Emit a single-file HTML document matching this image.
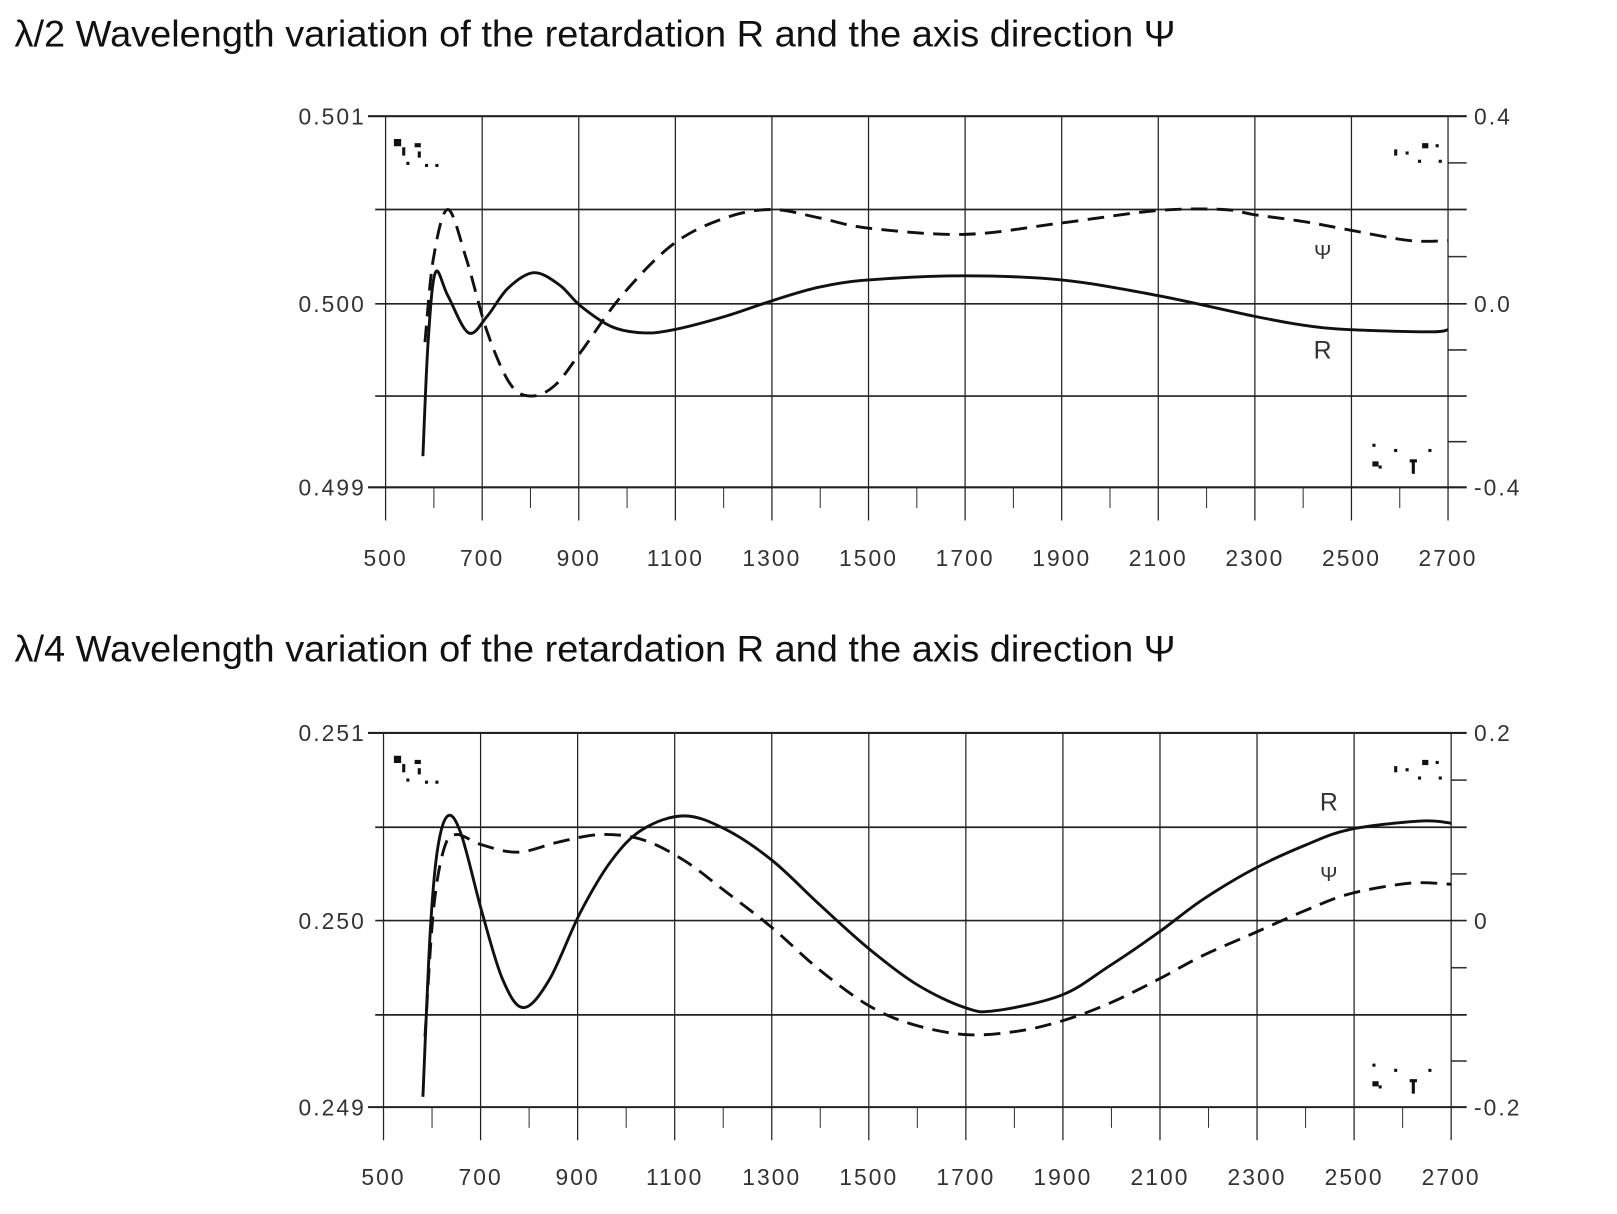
<!DOCTYPE html>
<html><head><meta charset="utf-8"><style>
html,body{margin:0;padding:0;background:#fff}
svg{display:block}
.t{font-family:"Liberation Sans",sans-serif;font-size:36px;fill:#111}
.tk{font-family:"Liberation Sans",sans-serif;font-size:22px;fill:#333;letter-spacing:2px}
</style></head><body>
<svg width="1617" height="1214" viewBox="0 0 1560 1171" xmlns="http://www.w3.org/2000/svg">
<rect width="1560" height="1171" fill="#fff"/>
<text class="t" x="14" y="45" textLength="1120" lengthAdjust="spacingAndGlyphs">λ/2 Wavelength variation of the retardation R and the axis direction Ψ</text>
<text class="t" x="14" y="638" textLength="1120" lengthAdjust="spacingAndGlyphs">λ/4 Wavelength variation of the retardation R and the axis direction Ψ</text>
<g id="g1"></g><g id="g2"></g>
</svg>
<script>
const NS="http://www.w3.org/2000/svg";
function el(p,n,a,txt){const e=document.createElementNS(NS,n);for(const k in a)e.setAttribute(k,a[k]);if(txt!==undefined)e.textContent=txt;p.appendChild(e);return e;}
function smooth(pts){let d="M"+pts[0].join(",");for(let i=0;i<pts.length-1;i++){const p0=pts[i-1]||pts[i],p1=pts[i],p2=pts[i+1],p3=pts[i+2]||p2;
const c1=[p1[0]+(p2[0]-p0[0])/6,p1[1]+(p2[1]-p0[1])/6],c2=[p2[0]-(p3[0]-p1[0])/6,p2[1]-(p3[1]-p1[1])/6];
d+=" C"+c1.join(",")+" "+c2.join(",")+" "+p2.join(",");}return d;}
function chart(g,L,R,ys,lt,rt,xl,solid,dash,labY,rLabs){
 const G=document.getElementById(g);
 const step=(R-L)/11;
 ys.forEach((y,i)=>el(G,"line",{x1:(i==0||i==4)?355:362,x2:1415,y1:y,y2:y,stroke:"#222","stroke-width":(i==0||i==4)?2:1.6}));
 for(let i=0;i<4;i++){const y=(ys[i]+ys[i+1])/2;el(G,"line",{x1:R,x2:1415,y1:y,y2:y,stroke:"#333","stroke-width":1.5});}
 for(let i=0;i<=11;i++){const x=L+i*step;el(G,"line",{x1:x,x2:x,y1:ys[0],y2:ys[4]+32,stroke:"#222","stroke-width":1.2});
  if(i<11){const xm=x+step/2;el(G,"line",{x1:xm,x2:xm,y1:ys[4],y2:ys[4]+20,stroke:"#333","stroke-width":1});}
  el(G,"text",{class:"tk",x:x,y:labY,"text-anchor":"middle"},String(500+i*200));}
 [[0,lt[0]],[2,lt[1]],[4,lt[2]]].forEach(([i,t])=>el(G,"text",{class:"tk",x:353,y:ys[i]+8,"text-anchor":"end"},t));
 [[0,rt[0]],[2,rt[1]],[4,rt[2]]].forEach(([i,t])=>el(G,"text",{class:"tk",x:1422,y:ys[i]+8},t));
 el(G,"path",{d:smooth(dash),fill:"none",stroke:"#111","stroke-width":2.8,"stroke-dasharray":"16,9"});
 el(G,"path",{d:smooth(solid),fill:"none",stroke:"#111","stroke-width":2.8});
 rLabs.forEach(a=>el(G,"text",{class:"tk",x:a[1],y:a[2],"text-anchor":"middle","letter-spacing":"0",style:"font-size:"+a[3]+"px"},a[0]));
 const y0=ys[0];
 [[380,y0+22,7,7],[388,y0+30,3,8],[400,y0+26,6,4],[403,y0+34,3,6],[392,y0+44,3,3],[410,y0+46,3,3],[420,y0+46,3,3],
  [1345,y0+32,3,6],[1356,y0+34,3,3],[1372,y0+26,6,5],[1385,y0+27,3,3],[1368,y0+42,3,3],[1388,y0+42,3,3],
  [1324,ys[4]-42,3,3],[1345,ys[4]-37,3,3],[1378,ys[4]-37,3,3],[1324,ys[4]-25,6,5],[1330,ys[4]-21,3,3],[1360,ys[4]-27,7,3],[1362,ys[4]-25,3,12]
 ].forEach(r=>el(G,"rect",{x:r[0],y:r[1],width:r[2],height:r[3],fill:"#111"}));
}
chart("g1",372,1397,[112,202,293,382,470],["0.501","0.500","0.499"],["0.4","0.0","-0.4"],0,
 [[408,440],[413,330],[420,263],[432,285],[452,321],[470,305],[490,278],[515,263],[540,275],[560,295],[590,315],[620,321],[650,318],[700,305],[745,290],[790,277],[838,270],[931,266],[1024,270],[1117,285],[1210,305],[1260,314],[1303,318],[1380,320],[1397,318]],
 [[410,330],[418,250],[432,202],[450,250],[470,320],[492,370],[512,382],[535,372],[560,340],[600,285],[650,235],[700,210],[745,202],[790,210],[838,220],[931,226],[1024,215],[1117,203],[1180,202],[1210,207],[1260,214],[1303,222],[1360,232],[1397,232]],
 546,[["Ψ",1277,250,20],["R",1277,346,24]]);
chart("g2",370,1400,[707,798,888,979,1068],["0.251","0.250","0.249"],["0.2","0","-0.2"],0,
 [[408,1058],[415,900],[422,820],[432,787],[445,805],[465,880],[485,945],[505,972],[530,945],[560,880],[590,830],[620,800],[660,787],[700,800],[745,830],[790,872],[838,915],[885,950],[931,972],[960,975],[1024,960],[1070,932],[1117,900],[1160,868],[1210,838],[1260,815],[1303,800],[1370,792],[1400,794]],
 [[410,1000],[418,880],[428,820],[440,805],[465,815],[500,822],[540,812],[580,805],[620,810],[660,830],[700,860],[745,895],[790,935],[838,970],[880,988],[931,998],[980,995],[1024,985],[1070,968],[1117,945],[1160,922],[1210,900],[1260,878],[1303,862],[1360,852],[1400,853]],
 1143,[["R",1283,782,24],["Ψ",1283,850,20]]);
</script>
</body></html>
